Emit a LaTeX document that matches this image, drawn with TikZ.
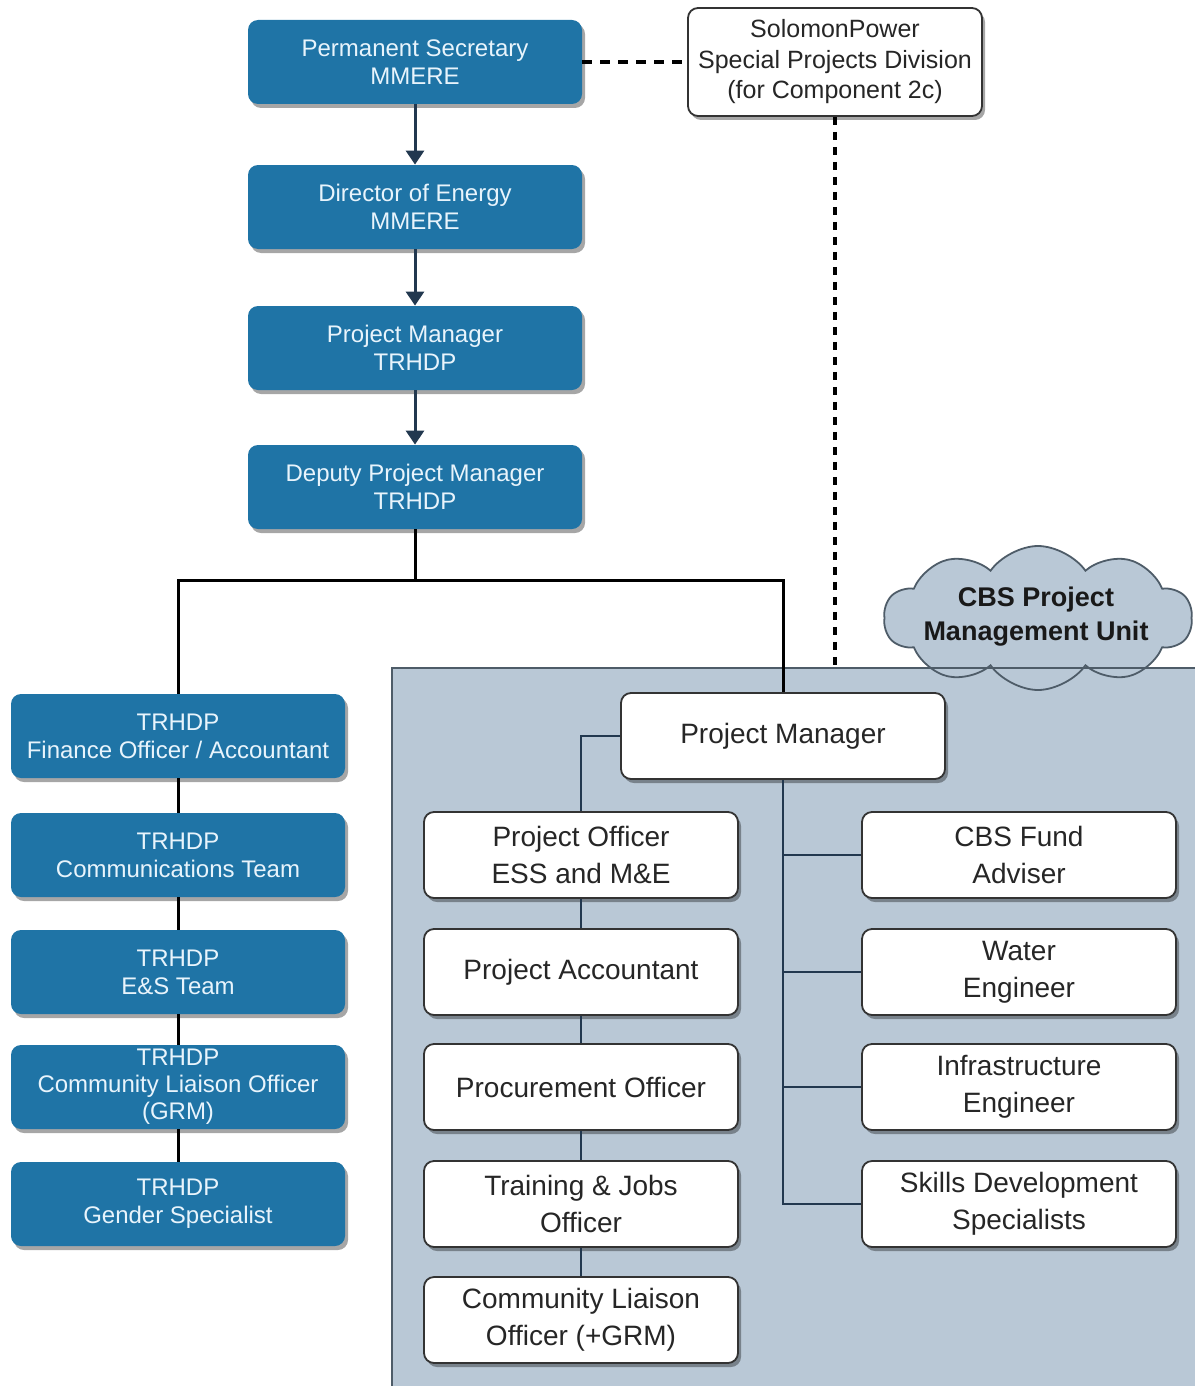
\documentclass[tikz,border=0pt]{standalone}
\usepackage{fontspec}
\setmainfont{Liberation Sans}
\usetikzlibrary{arrows.meta,shapes.symbols,shadows}
\definecolor{boxblue}{HTML}{1F74A6}
\definecolor{boxtxt}{HTML}{E8F4FC}
\definecolor{pmufill}{HTML}{B9C8D6}
\definecolor{pmuline}{HTML}{4E5C68}
\definecolor{navy}{HTML}{22384F}

\begin{document}
\begin{tikzpicture}
  [x=0.5pt,y=-0.5pt,
   boxshadow/.style={drop shadow={shadow xshift=1.5pt,shadow yshift=-2pt,opacity=0.35,fill=black}},
   bluebox/.style={rectangle,rounded corners=5pt,fill=boxblue,text=boxtxt,inner sep=2pt,
     minimum width=167pt,minimum height=42pt,align=center,font=\fontsize{12}{14}\selectfont,boxshadow},
   whitebox/.style={rectangle,rounded corners=5pt,draw=black!80,line width=0.9pt,fill=white,text=black!85,
     inner sep=2pt,minimum width=157pt,minimum height=43pt,align=center,font=\fontsize{14}{18.5}\selectfont,boxshadow},
   arr/.style={navy,line width=1.5pt,-{Triangle[width=9pt,length=7pt]}},
   tie/.style={black,line width=1.5pt},
   link/.style={navy,line width=1.4pt},
   dashline/.style={black,line width=1.6pt,dash pattern=on 5pt off 4pt}]
  \useasboundingbox (0,0) rectangle (1195,1386);

  % PMU area and cloud
  \fill[pmufill] (392,668) rectangle (1195,1386);
  \node[cloud,cloud puffs=10,cloud puff arc=110,aspect=2.2,draw=pmuline,line width=0.9pt,fill=pmufill,
    minimum width=154pt,minimum height=72pt,inner sep=0pt] (cbs) at (1038,618) {};
  \node[font=\fontsize{13.5}{17}\selectfont\bfseries,align=center,text=black!90] (cbslbl) at (1036,617) {CBS Project\\Management Unit};
  \draw[pmuline,line width=1pt] (392,1386) -- (392,668) -- (1195,668);
  \coordinate (pmutop) at (835,668);

  % ministry line
  \node[bluebox] (ps) at (415,62) {Permanent Secretary\\MMERE};
  \node[bluebox] (doe) at (415,207) {Director of Energy\\MMERE};
  \node[bluebox] (pmt) at (415,348) {Project Manager\\TRHDP};
  \node[bluebox] (dpm) at (415,487) {Deputy Project Manager\\TRHDP};
  \node[whitebox,minimum width=147pt,minimum height=54pt,font=\fontsize{12.5}{15.25}\selectfont] (sp) at (835,62)
    {SolomonPower\\Special Projects Division\\(for Component 2c)};

  % TRHDP staff
  \node[bluebox] (fin) at (178,736) {TRHDP\\Finance Officer / Accountant};
  \node[bluebox] (com) at (178,855) {TRHDP\\Communications Team};
  \node[bluebox] (es) at (178,972) {TRHDP\\E\&S Team};
  \node[bluebox,inner sep=0pt,font=\fontsize{12}{13.5}\selectfont] (clo) at (178,1087) {TRHDP\\Community Liaison Officer\\(GRM)};
  \node[bluebox] (gen) at (178,1204) {TRHDP\\Gender Specialist};

  % PMU staff
  \node[whitebox,minimum width=162pt] (pm) at (783,736) {Project Manager};
  \node[whitebox] (po) at (581,855) {Project Officer\\ESS and M\&E};
  \node[whitebox] (pa) at (581,972) {Project Accountant};
  \node[whitebox] (proc) at (581,1087) {Procurement Officer};
  \node[whitebox] (tj) at (581,1204) {Training \& Jobs\\Officer};
  \node[whitebox] (cl) at (581,1320) {Community Liaison\\Officer (+GRM)};
  \node[whitebox] (fund) at (1019,855) {CBS Fund\\Adviser};
  \node[whitebox] (water) at (1019,972) {Water\\Engineer};
  \node[whitebox] (infra) at (1019,1087) {Infrastructure\\Engineer};
  \node[whitebox] (skills) at (1019,1204) {Skills Development\\Specialists};

  \foreach \from/\to in {ps/doe, doe/pmt, pmt/dpm}
    \draw[arr] (\from) -- (\to);
  \draw[dashline] (ps.east) -- (sp.west);
  \draw[dashline,dash pattern=on 4pt off 3.5pt] (sp.south) -- (pmutop);

  \draw[tie] (dpm.south) -- ++(0,51) -| (fin.north);
  \draw[tie] (dpm.south) -- ++(0,51) -| (pm.north);
  \foreach \from/\to in {fin/com, com/es, es/clo, clo/gen}
    \draw[tie] (\from) -- (\to);

  \draw[link] (pm.west) -| (po.north);
  \foreach \from/\to in {po/pa, pa/proc, proc/tj, tj/cl}
    \draw[link] (\from) -- (\to);
  \draw[link] (pm.south) |- (skills.west);
  \foreach \to in {fund, water, infra}
    \draw[link] (pm.south |- \to.west) -- (\to.west);

\end{tikzpicture}
\end{document}
